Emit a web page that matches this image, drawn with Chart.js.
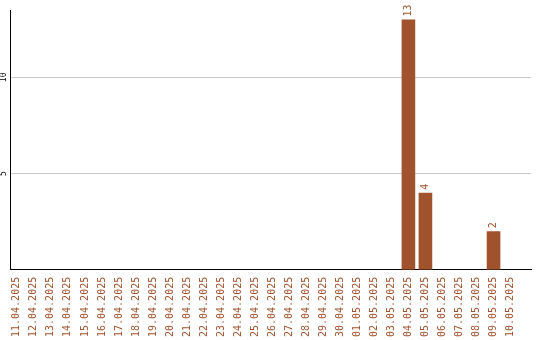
<!DOCTYPE html>
<html>
<head>
<meta charset="utf-8">
<script src="https://cdn.jsdelivr.net/npm/chart.js@4/dist/chart.umd.min.js"></script>
<style>
  html, body { margin: 0; padding: 0; background: #fff; }
  #wrap { width: 540px; height: 340px; }
</style>
</head>
<body>
<div id="wrap"><canvas id="c" width="540" height="340"></canvas></div>
<script>
// Daily counts
const dates = [
  '11.04.2025', '12.04.2025', '13.04.2025', '14.04.2025', '15.04.2025',
  '16.04.2025', '17.04.2025', '18.04.2025', '19.04.2025', '20.04.2025',
  '21.04.2025', '22.04.2025', '23.04.2025', '24.04.2025', '25.04.2025',
  '26.04.2025', '27.04.2025', '28.04.2025', '29.04.2025', '30.04.2025',
  '01.05.2025', '02.05.2025', '03.05.2025', '04.05.2025', '05.05.2025',
  '06.05.2025', '07.05.2025', '08.05.2025', '09.05.2025', '10.05.2025'
];
const counts = [
  0, 0, 0, 0, 0, 0, 0, 0, 0, 0,
  0, 0, 0, 0, 0, 0, 0, 0, 0, 0,
  0, 0, 0, 13, 4, 0, 0, 0, 2, 0
];
const yTicks = [5, 10];

const BROWN = '#a0522d';
const MONO = 'DejaVu Sans Mono';

// Rotated value labels above each non-empty bar
const valueLabels = {
  id: 'valueLabels',
  afterDatasetsDraw(chart) {
    const ctx = chart.ctx;
    const meta = chart.getDatasetMeta(0);
    ctx.save();
    ctx.fillStyle = BROWN;
    ctx.font = '10px "' + MONO + '"';
    ctx.textAlign = 'left';
    ctx.textBaseline = 'middle';
    meta.data.forEach((bar, i) => {
      const v = counts[i];
      if (!v) return;
      ctx.save();
      ctx.translate(bar.x, bar.y - 3);
      ctx.rotate(-Math.PI / 2);
      ctx.fillText(String(v), 0, 0);
      ctx.restore();
    });
    ctx.restore();
  }
};

new Chart(document.getElementById('c'), {
  type: 'bar',
  data: {
    datasets: [{
      data: counts.map((v, i) => ({ x: i, y: v })),
      backgroundColor: BROWN,
      borderWidth: 0,
      barPercentage: 0.8,
      categoryPercentage: 1.0
    }]
  },
  options: {
    responsive: false,
    animation: false,
    devicePixelRatio: 1,
    layout: { padding: { top: 10, right: 9, bottom: -4, left: 0 } },
    plugins: { legend: { display: false }, tooltip: { enabled: false } },
    scales: {
      x: {
        type: 'linear',
        min: -0.4,
        max: 30.2,
        offset: false,
        afterBuildTicks(scale) {
          scale.ticks = dates.map((_, i) => ({ value: i }));
        },
        grid: { display: false, drawTicks: false, offset: false },
        border: { display: true, color: '#000', width: 1 },
        ticks: {
          autoSkip: false,
          minRotation: 90,
          maxRotation: 90,
          padding: 7,
          color: BROWN,
          font: { family: MONO, size: 10 },
          callback: (v) => dates[v]
        }
      },
      y: {
        min: 0,
        max: 13.5,
        afterBuildTicks(scale) {
          scale.ticks = yTicks.map(v => ({ value: v }));
        },
        grid: { color: '#c8c8c8', drawTicks: false },
        border: { display: true, color: '#000', width: 1 },
        ticks: {
          minRotation: 90,
          maxRotation: 90,
          crossAlign: 'center',
          padding: 1,
          color: '#000',
          font: { family: MONO, size: 8, lineHeight: 1 }
        }
      }
    }
  },
  plugins: [valueLabels]
});
</script>
</body>
</html>
